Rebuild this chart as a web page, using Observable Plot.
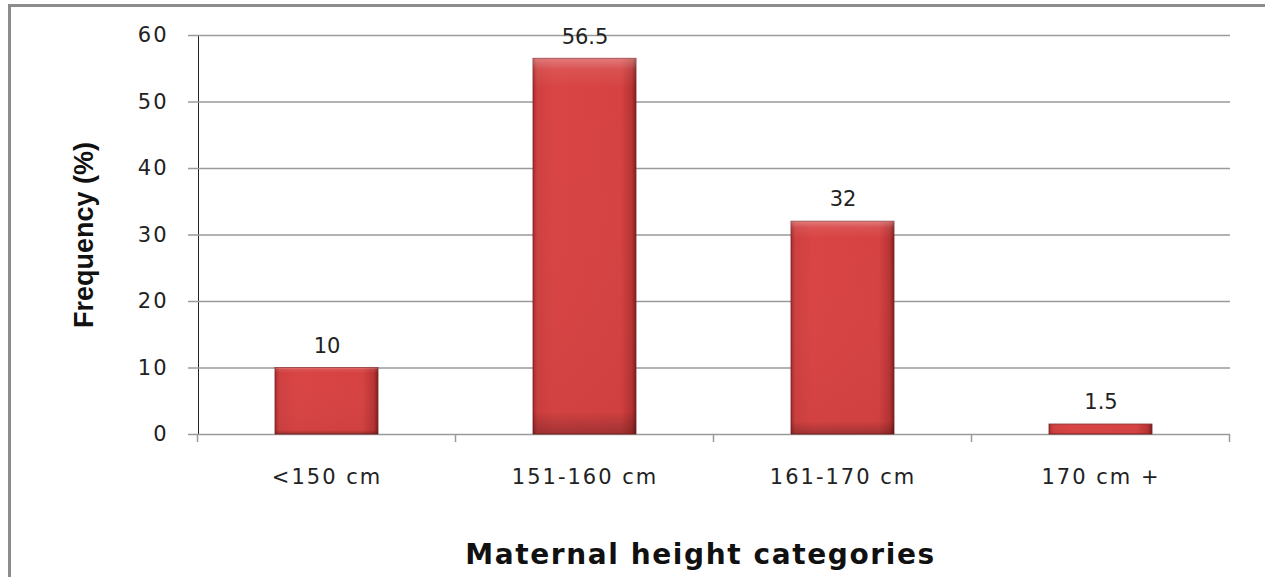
<!DOCTYPE html>
<html>
<head>
<meta charset="utf-8">
<script src="https://cdn.jsdelivr.net/npm/d3@7"></script>
<script src="https://cdn.jsdelivr.net/npm/@observablehq/plot@0.6"></script>
<style>
  html, body { margin: 0; padding: 0; background: #fff; overflow: hidden; }
  #wrap { position: relative; width: 1265px; height: 577px; }
  #border { position: absolute; left: 8px; top: 4px; width: 1300px; height: 600px;
            border-left: 3px solid #8c8c8c; border-top: 3px solid #8c8c8c; }
  #chart { position: absolute; left: 0; top: 0; }
  #chart svg g[aria-label="x-axis tick label"] text,
  #chart svg g[aria-label="y-axis tick label"] text,
  #chart svg g[aria-label="x-axis"] text,
  #chart svg g[aria-label="y-axis"] text { letter-spacing: 2px; }
</style>
</head>
<body>
<div id="wrap"><div id="border"></div><div id="chart"></div></div>
<script>
const categories = ["<150 cm", "151-160 cm", "161-170 cm", "170 cm +"];
const frequencies = [10, 56.5, 32, 1.5];
const valueLabels = ["10", "56.5", "32", "1.5"];
const yTicks = [0, 10, 20, 30, 40, 50, 60];
const xTitle = "Maternal height categories";
const yTitle = "Frequency (%)";

const data = categories.map((c, i) => ({category: c, value: frequencies[i], label: valueLabels[i]}));

// category separator ticks drawn from the band scale
function separators(index, scales, values, dims) {
  const x = scales.x, y = scales.y;
  const step = x.step ? x.step() : (dims.width - dims.marginLeft - dims.marginRight) / categories.length;
  const bw = x.bandwidth ? x.bandwidth() : step * 0.4;
  const y0 = y(0);
  const g = d3.create("svg:g").attr("stroke", "#9a9a9a").attr("stroke-width", 1.5);
  const edges = categories.map(c => x(c) + bw / 2 - step / 2);
  edges.push(x(categories[categories.length - 1]) + bw / 2 + step / 2);
  for (const e of edges) g.append("line").attr("x1", e).attr("x2", e).attr("y1", y0).attr("y2", y0 + 8);
  return g.node();
}

const chart = Plot.plot({
  width: 1265,
  height: 577,
  marginLeft: 198,
  marginRight: 35,
  marginTop: 35,
  marginBottom: 143,
  style: {fontFamily: "'DejaVu Sans', sans-serif", fontSize: "21px", color: "#222", background: "transparent", overflow: "visible"},
  x: {domain: categories, paddingInner: 0.6, paddingOuter: 0.3, label: null, tickSize: 0, tickPadding: 35},
  y: {domain: [0, 60], ticks: yTicks, label: null, tickSize: 10, tickPadding: 20, line: true},
  marks: [
    Plot.ruleY(yTicks, {stroke: "#9a9a9a", strokeWidth: 1.5}),
    separators,
    Plot.barY(data, {x: "category", y: "value", fill: "url(#barFill)", stroke: "#7d1f1f", strokeWidth: 0.8}),
    Plot.barY(data, {x: "category", y: "value", fill: "url(#barBevel)"}),
    Plot.text(data, {x: "category", y: "value", text: "label", dy: -22, fontSize: 21, fill: "#222", letterSpacing: 2}),
    Plot.text([xTitle], {frameAnchor: "bottom", dy: 129, dx: -14, fontSize: 28, fontWeight: "bold", fill: "#111"}),
    Plot.text([yTitle], {frameAnchor: "left", textAnchor: "middle", dx: -114, rotate: -90, fontSize: 27, fontWeight: "bold", fill: "#111",
      fontFamily: "'Liberation Sans Narrow', 'Liberation Sans', sans-serif"})
  ]
});

const svg = d3.select(chart);
svg.selectAll("[aria-label='y-axis'] path, [aria-label='y-axis tick'] path").attr("stroke", "#9a9a9a").attr("stroke-width", 1.5);
// x-title letter spacing
svg.selectAll("text").filter(function() { return this.textContent === xTitle; }).style("letter-spacing", "1.6px");
const defs = svg.insert("defs", ":first-child");
const f = defs.append("linearGradient").attr("id", "barFill").attr("x1", 0).attr("x2", 1).attr("y1", 0).attr("y2", 0);
[[0, "#a52d2d"], [0.04, "#cf4040"], [0.2, "#d94444"], [0.85, "#d64242"], [0.96, "#b83333"], [1, "#7e2020"]]
  .forEach(([o, c]) => f.append("stop").attr("offset", o).attr("stop-color", c));
const b = defs.append("linearGradient").attr("id", "barBevel").attr("x1", 0).attr("x2", 0).attr("y1", 0).attr("y2", 1);
[[0, "#ffffff", 0.3], [0.03, "#ffffff", 0.08], [0.08, "#ffffff", 0], [0.94, "#000000", 0.03], [1, "#000000", 0.25]]
  .forEach(([o, c, a]) => b.append("stop").attr("offset", o).attr("stop-color", c).attr("stop-opacity", a));

document.getElementById("chart").appendChild(chart);
</script>
</body>
</html>
